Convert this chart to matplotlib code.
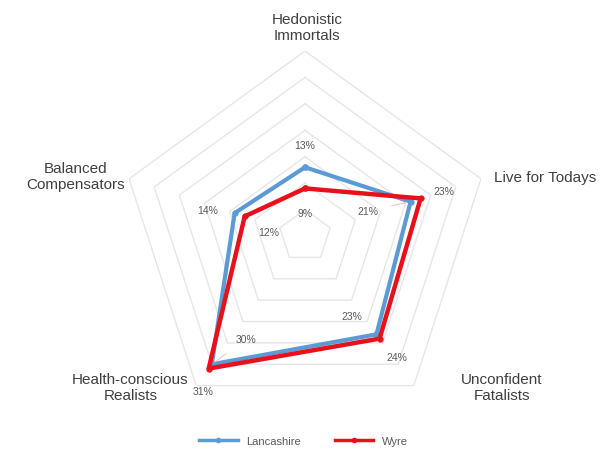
import numpy as np
import matplotlib
matplotlib.use("Agg")
import matplotlib.pyplot as plt
from matplotlib.lines import Line2D

plt.rcParams["font.family"] = ["Liberation Sans", "DejaVu Sans"]

#########################
# DATA
#########################

CATEGORIES = ["Hedonistic\nImmortals", "Live for Todays", "Unconfident\nFatalists",
              "Health-conscious\nRealists", "Balanced\nCompensators"]
LANCASHIRE = [13, 21, 23, 30, 14]
WYRE = [9, 23, 24, 31, 12]
RINGS = [5, 10, 15, 20, 25, 30, 35]

BLUE = "#5B9BD5"
RED = "#E8101A"
GRID = "#E6E6E6"

# label offsets in pixels (dx, dy) for each point
LANC_OFF = [(0, 22), (-43, -9), (-25, 18), (34, 25), (-27, 3)]
WYRE_OFF = [(0, -25), (23, 7), (17, -18), (-6, -22), (24, -16)]
CAT_OFF = [(2, 24), (64, 2), (88, -1), (-66, -1), (-54, 3)]
LEADER = [False, True, False, True, False]

#########################
# PLOT
#########################

fig = plt.figure(figsize=(6.07, 4.52), dpi=100)
ax = fig.add_axes([0.1977, 0.0664, 0.6096, 0.8186], projection="polar")
ax.set_theta_offset(np.pi / 2)
ax.set_theta_direction(-1)
ax.set_ylim(0, 35)
ax.grid(False)
ax.spines["polar"].set_visible(False)
ax.set_xticks([])
ax.set_yticks([])
ax.patch.set_alpha(0)

n = len(CATEGORIES)
angles = np.linspace(0, 2 * np.pi, n, endpoint=False)
closed = np.append(angles, angles[0])

for r in RINGS:
    ax.plot(closed, [r] * (n + 1), color=GRID, lw=1, zorder=1)

ax.plot(closed, LANCASHIRE + LANCASHIRE[:1], color=BLUE, lw=3, marker="o",
        ms=3.5, zorder=3, clip_on=False)
ax.plot(closed, WYRE + WYRE[:1], color=RED, lw=3.2, marker="o",
        ms=3.5, zorder=4, clip_on=False)

for i, a in enumerate(angles):
    arrow = dict(arrowstyle="-", color="#F2C4C4", lw=0.8, shrinkA=8, shrinkB=3) if LEADER[i] else None
    ax.annotate(f"{LANCASHIRE[i]}%", (a, LANCASHIRE[i]), xytext=LANC_OFF[i],
                textcoords="offset pixels", ha="center", va="center",
                fontsize=7.5, color="#595959", annotation_clip=False,
                arrowprops=arrow)
    ax.annotate(f"{WYRE[i]}%", (a, WYRE[i]), xytext=WYRE_OFF[i],
                textcoords="offset pixels", ha="center", va="center",
                fontsize=7.5, color="#595959", annotation_clip=False)
    ax.annotate(CATEGORIES[i], (a, RINGS[-1]), xytext=CAT_OFF[i],
                textcoords="offset pixels", ha="center", va="center",
                fontsize=11, color="#404040", linespacing=1.2,
                annotation_clip=False)

handles = [Line2D([], [], color=BLUE, lw=2.5, marker="o", ms=3),
           Line2D([], [], color=RED, lw=2.5, marker="o", ms=3)]
fig.legend(handles, ["Lancashire", "Wyre"], loc="center",
           bbox_to_anchor=(0.5, 0.022), ncol=2, frameon=False,
           fontsize=8, handlelength=3.5, columnspacing=3,
           labelcolor="#595959")

fig.savefig("out.png", dpi=100)
